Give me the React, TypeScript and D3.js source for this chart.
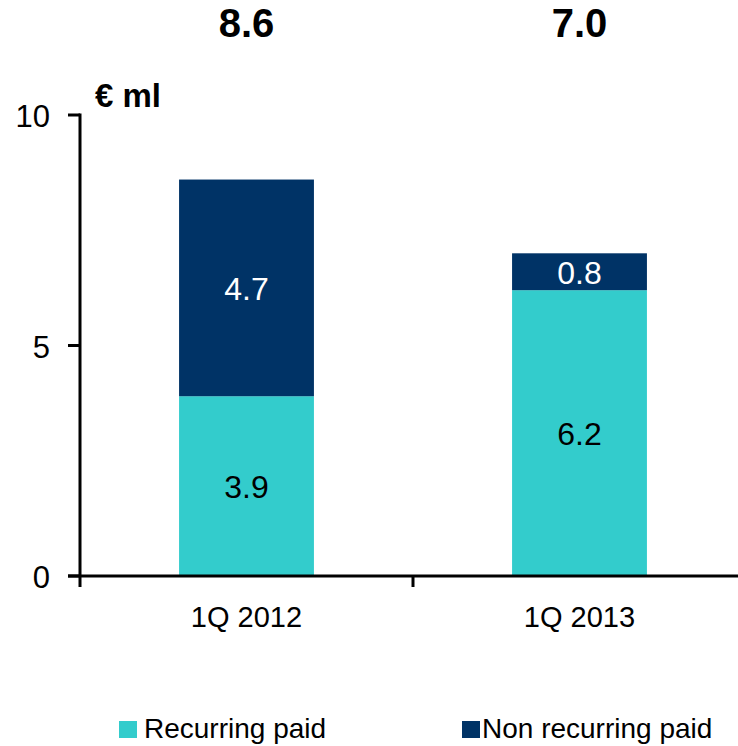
import React from "react";
import * as d3 from "d3";

const categories = ["1Q 2012", "1Q 2013"];
const recurring = [3.9, 6.2];
const nonRecurring = [4.7, 0.8];
const totals = ["8.6", "7.0"];
const yTicks = [0, 5, 10];
const seriesNames = ["Recurring paid", "Non recurring paid"];
const colors = ["#33CCCC", "#003366"];

export default function App() {
  const W = 738, H = 746;
  const x = d3.scaleBand<string>().domain(categories).range([80, 746]).padding(0);
  const y = d3.scaleLinear().domain([0, 10]).range([576, 115]);
  const bw = x.bandwidth() * 0.405;
  const font = "Arial, 'Liberation Sans', sans-serif";
  const stackData = categories.map((c, i) => ({ cat: c, r: recurring[i], n: nonRecurring[i] }));
  const stack = d3.stack<any>().keys(["r", "n"])(stackData);
  return (
    <svg width={W} height={H} style={{ position: "absolute", left: 0, top: 0 }} fontFamily={font}>
      <rect width={W} height={H} fill="#fff" />
      {stack.map((layer, li) =>
        layer.map((d, i) => {
          const cx = x(categories[i])! + x.bandwidth() / 2;
          const y0 = y(d[0]), y1 = y(d[1]);
          const v = li === 0 ? recurring[i] : nonRecurring[i];
          return (
            <g key={`${li}-${i}`}>
              <rect x={cx - bw / 2} y={y1} width={bw} height={y0 - y1} fill={colors[li]} />
              <text x={cx} y={(y0 + y1) / 2 + 12} textAnchor="middle" fontSize={32}
                fill={li === 0 ? "#000" : "#fff"}>{v.toFixed(1)}</text>
            </g>
          );
        })
      )}
      {categories.map((c, i) => (
        <text key={c} x={x(c)! + x.bandwidth() / 2} y={37} textAnchor="middle" fontSize={40} fontWeight="bold">{totals[i]}</text>
      ))}
      <line x1={80} x2={80} y1={y(10) - 1.5} y2={587} stroke="#000" strokeWidth={3} />
      {yTicks.map(t => (
        <g key={t}>
          <line x1={68} x2={80} y1={y(t)} y2={y(t)} stroke="#000" strokeWidth={3} />
          <text x={50} y={y(t) + 12} textAnchor="end" fontSize={31}>{t}</text>
        </g>
      ))}
      <line x1={68} x2={746} y1={y(0)} y2={y(0)} stroke="#000" strokeWidth={3} />
      <line x1={x(categories[1])!} x2={x(categories[1])!} y1={y(0)} y2={587} stroke="#000" strokeWidth={3} />
      {categories.map(c => (
        <text key={c} x={x(c)! + x.bandwidth() / 2} y={627} textAnchor="middle" fontSize={29}>{c}</text>
      ))}
      <text x={95} y={107} fontSize={33} fontWeight="bold">€ ml</text>
      {seriesNames.map((s, i) => {
        const lx = i === 0 ? 119 : 462;
        const gap = i === 0 ? 25 : 20;
        return (
          <g key={s}>
            <rect x={lx} y={721} width={18} height={17} fill={colors[i]} />
            <text x={lx + gap} y={738} fontSize={28}>{s}</text>
          </g>
        );
      })}
    </svg>
  );
}
